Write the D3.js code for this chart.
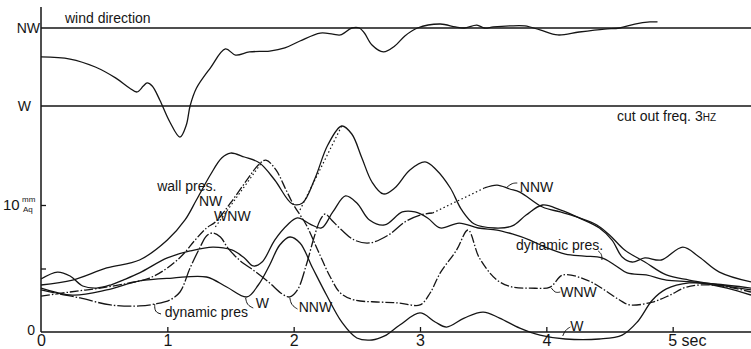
<!DOCTYPE html>
<html>
<head>
<meta charset="utf-8">
<script src="https://cdn.jsdelivr.net/npm/d3@7/dist/d3.min.js"></script>
<style>
  body { margin: 0; background: #fff; }
  svg { display: block; font-family: "Liberation Sans", Arial, sans-serif; }
</style>
</head>
<body>
<svg width="751" height="349"></svg>
<script>
// wind direction trace: [time s, direction deg]  (W = 270, NW = 315)
const windDir = [[0,298.3],[0.23,297.1],[0.43,292.5],[0.59,286.2],[0.70,280.4],[0.76,278.1],[0.81,281.5],[0.84,283.3],[0.88,281.5],[0.94,273.5],[1.02,260.8],[1.10,252.1],[1.15,259.0],[1.18,270],[1.23,280.2],[1.34,291.9],[1.46,302.9],[1.54,299.4],[1.65,301.2],[1.81,301.7],[1.93,303.5],[2.05,307.5],[2.21,312.1],[2.31,311.5],[2.37,311.0],[2.46,315],[2.52,315],[2.56,312.1],[2.62,305.2],[2.71,301.2],[2.80,304.6],[2.88,310.4],[2.98,315],[3.16,317.3],[3.28,315.6],[3.35,315],[3.45,316.7],[3.51,315],[3.58,315.6],[3.71,316.2],[3.83,316.2],[3.95,313.9],[4.09,311.0],[4.26,312.7],[4.46,314.4],[4.58,315],[4.70,317.3],[4.82,318.5],[4.88,318.5]];

// pressures: [time s, mm Aq]
const wallNW = [[0,3.70],[0.25,4.09],[0.52,5.04],[0.78,5.67],[1.00,7.24],[1.14,8.82],[1.23,10.39],[1.34,12.36],[1.43,13.70],[1.50,14.09],[1.61,13.78],[1.73,13.31],[1.85,11.97],[1.99,10.08],[2.07,10.16],[2.17,12.13],[2.27,14.72],[2.38,16.22],[2.46,15.59],[2.54,13.70],[2.62,11.81],[2.71,10.87],[2.80,11.34],[2.92,12.76],[3.04,13.39],[3.13,12.76],[3.24,11.34],[3.33,9.61],[3.43,8.50],[3.59,8.19],[3.73,8.35],[3.84,9.21],[3.97,10.0],[4.11,9.61],[4.26,8.98],[4.42,8.19],[4.52,7.24],[4.60,5.91],[4.68,5.51],[4.78,5.83],[4.91,5.67],[5.08,6.69],[5.21,5.91],[5.37,4.72],[5.62,3.94]];

const wallWNW = [[0,2.83],[0.23,3.15],[0.47,3.46],[0.70,3.86],[0.86,4.25],[1.00,5.04],[1.12,6.06],[1.22,7.24],[1.31,8.19],[1.38,8.66],[1.50,10.16],[1.63,11.97],[1.72,13.15],[1.78,13.54],[1.86,12.76],[1.94,11.18],[2.00,10.0],[2.10,8.43],[2.19,6.46],[2.29,4.33],[2.37,3.07],[2.48,2.52],[2.68,2.36],[2.84,2.28],[3.00,2.13],[3.08,3.07],[3.16,4.65],[3.29,6.46],[3.38,8.03],[3.47,5.83],[3.61,4.09],[3.73,3.54],[3.87,3.46],[4.03,3.54],[4.13,4.49],[4.32,4.09],[4.46,3.31],[4.58,2.52],[4.66,2.13],[4.84,2.36],[4.98,2.91],[5.11,3.54],[5.32,3.70],[5.62,3.15]];

const wallW = [[0,3.46],[0.25,2.91],[0.52,3.31],[0.78,4.02],[1.04,4.25],[1.31,4.33],[1.47,3.54],[1.63,2.76],[1.72,3.70],[1.81,5.28],[1.89,6.85],[1.97,7.48],[2.05,7.01],[2.15,5.04],[2.26,2.91],[2.38,0.79],[2.50,-0.47],[2.62,-0.63],[2.72,-0.31],[2.84,0.55],[3.00,1.50],[3.12,0.79],[3.21,0.39],[3.35,1.10],[3.50,1.57],[3.63,1.10],[3.79,0.31],[3.95,-0.24],[4.15,-0.55],[4.42,-0.55],[4.60,-0.24],[4.72,0.79],[4.84,2.52],[4.95,3.39],[5.13,3.86],[5.33,3.78],[5.62,3.46]];

const wallNNWa = [[0,3.31],[0.15,2.99],[0.31,2.68],[0.55,2.13],[0.78,2.05],[0.90,2.20],[1.02,2.52],[1.10,3.15],[1.18,5.04],[1.26,6.69],[1.31,7.56],[1.36,7.80],[1.42,7.48],[1.48,6.61],[1.57,5.67],[1.69,4.80],[1.81,3.86],[1.91,2.99],[1.97,2.76],[2.03,3.31],[2.10,5.28],[2.16,7.40],[2.21,8.82],[2.25,9.29],[2.30,8.82],[2.38,8.03],[2.48,7.24],[2.60,7.01],[2.75,7.64],[2.88,8.66],[3.00,9.21],[3.10,9.37]];
const wallNNWb = [[3.51,11.34],[3.61,11.57],[3.71,11.26],[3.79,11.02],[3.97,9.84],[4.11,9.45],[4.24,9.06],[4.40,8.43],[4.50,7.64],[4.62,6.46],[4.78,5.51],[4.95,4.49],[5.13,4.09],[5.37,3.70],[5.62,3.31]];

const dynPres = [[0,4.17],[0.13,4.72],[0.23,4.41],[0.33,3.62],[0.44,3.46],[0.55,3.70],[0.65,4.09],[0.78,4.65],[1.00,5.83],[1.18,6.38],[1.36,6.69],[1.51,6.46],[1.61,5.83],[1.68,5.20],[1.75,5.51],[1.85,7.24],[1.95,8.43],[2.03,8.98],[2.13,8.50],[2.22,8.19],[2.31,9.45],[2.41,10.71],[2.50,10.16],[2.60,8.82],[2.72,8.43],[2.86,9.45],[2.96,9.45],[3.06,8.98],[3.16,8.19],[3.31,8.58],[3.46,8.19],[3.61,8.03],[3.73,7.72],[3.87,7.24],[3.99,6.69],[4.15,6.14],[4.30,5.98],[4.44,5.83],[4.54,5.28],[4.64,4.65],[4.79,4.49],[4.95,4.09],[5.16,3.94],[5.43,3.46],[5.62,2.91]];

// dotted peak-to-peak guides
const lagLines = [
  [[1.38,8.27],[1.75,13.39]],
  [[2.05,9.61],[2.38,16.22]],
  [[3.10,9.37],[3.51,11.34]]
];

const xTicks = [0, 1, 2, 3, 4, 5];

const notes = [
  { text: 'wall pres.', t: 0.92, v: 11.10 },
  { text: 'NW', t: 1.25, v: 9.92 },
  { text: 'WNW', t: 1.37, v: 8.74 },
  { text: 'dynamic pres', t: 0.98, v: 1.18 },
  { text: 'W', t: 1.70, v: 1.89 },
  { text: 'NNW', t: 2.04, v: 1.57 },
  { text: 'NNW', t: 3.79, v: 11.02 },
  { text: 'dynamic pres.', t: 3.76, v: 6.46 },
  { text: 'WNW', t: 4.11, v: 2.76 },
  { text: 'W', t: 4.19, v: 0.08 }
];
const leaders = [
  [[0.90,2.20],[0.90,1.57],[0.95,1.42]],
  [[1.62,2.68],[1.63,2.13],[1.68,1.89]],
  [[1.97,2.68],[1.98,2.13],[2.03,1.81]],
  [[3.69,11.42],[3.73,11.73],[3.77,11.73]],
  [[4.41,6.38],[4.44,6.14],[4.44,5.67]],
  [[4.04,3.46],[4.07,3.07],[4.11,3.15]],
  [[4.13,-0.31],[4.15,0.16],[4.19,0.39]]
];

const margin = { top: 7, right: 0, bottom: 17, left: 41 };
const W = 751, H = 349;
const ink = '#151515';

const svg = d3.select('svg');

const x = d3.scaleLinear().domain([0, 5.62]).range([margin.left, W - margin.right]);
const y = d3.scaleLinear().domain([0, 10]).range([H - margin.bottom, 205]);
const yDir = d3.scaleLinear().domain([270, 315]).range([106, 28]);

const line = d3.line()
  .x(d => x(d[0]))
  .y(d => y(d[1]))
  .curve(d3.curveCatmullRom.alpha(0.5));

// direction reference lines
svg.append('g')
  .selectAll('line')
  .data([270, 315])
  .join('line')
  .attr('x1', x(0)).attr('x2', W)
  .attr('y1', d => yDir(d)).attr('y2', d => yDir(d))
  .attr('stroke', ink).attr('stroke-width', 1.5);

svg.append('path')
  .datum(windDir)
  .attr('fill', 'none')
  .attr('stroke', ink)
  .attr('stroke-width', 1.3)
  .attr('d', d3.line().x(d => x(d[0])).y(d => yDir(d[1])).curve(d3.curveCatmullRom.alpha(0.5)));

// y axis (full height)
svg.append('line')
  .attr('x1', x(0)).attr('x2', x(0))
  .attr('y1', margin.top).attr('y2', y(0))
  .attr('stroke', ink).attr('stroke-width', 1.5);

svg.append('g')
  .attr('transform', `translate(${x(0)},0)`)
  .call(d3.axisLeft(y).tickValues([5, 10]).tickSize(-5).tickFormat(''))
  .call(g => g.select('.domain').remove())
  .call(g => g.selectAll('line').attr('stroke', ink).attr('stroke-width', 1.3));

// x axis
const xAxis = svg.append('g')
  .attr('transform', `translate(0,${y(0)})`)
  .call(d3.axisBottom(x).tickValues(xTicks).tickFormat(d3.format('d'))
    .tickSize(-5).tickPadding(2).tickSizeOuter(0));
xAxis.select('.domain').attr('stroke', ink).attr('stroke-width', 1.5).attr('d', `M${x(0)},0H${W}`);
xAxis.selectAll('line').attr('stroke', ink).attr('stroke-width', 1.3);
xAxis.selectAll('text')
  .attr('fill', ink)
  .attr('font-size', 16)
  .attr('font-family', '"Liberation Sans", Arial, sans-serif')
  .attr('dy', '0.72em');
xAxis.selectAll('.tick').filter(d => d === 0).select('line').remove();
xAxis.selectAll('.tick').filter(d => d === 5).select('text')
  .attr('text-anchor', 'start').attr('dx', -5)
  .text('5 sec');

// axis labels
const lab = svg.append('g').attr('fill', ink).attr('font-size', 14);
lab.append('text').attr('x', x(0) - 1).attr('y', yDir(315)).attr('dy', '0.36em')
  .attr('text-anchor', 'end').text('NW');
lab.append('text').attr('x', x(0) - 10).attr('y', yDir(270)).attr('dy', '0.36em')
  .attr('text-anchor', 'end').text('W');
lab.append('text').attr('x', x(0) - 6).attr('y', y(0) - 2).attr('dy', '0.36em')
  .attr('text-anchor', 'end').text('0');
lab.append('text').attr('x', 3).attr('y', y(10)).attr('dy', '0.36em')
  .attr('font-size', 15).text('10');
lab.append('text').attr('x', 22).attr('y', y(10) - 3).attr('font-size', 8).text('mm');
lab.append('text').attr('x', 23).attr('y', y(10) + 7).attr('font-size', 8).text('Aq');

lab.append('text').attr('x', x(0.19)).attr('y', yDir(317.9)).text('wind direction');
const cut = lab.append('text').attr('x', x(4.56)).attr('y', yDir(261.3)).text('cut out freq. 3');
cut.append('tspan').attr('font-size', 10).text('HZ');

// pressure traces
const traces = [
  { data: wallNW, dash: null },
  { data: wallW, dash: null },
  { data: dynPres, dash: null },
  { data: wallWNW, dash: '9,2,1.5,2' },
  { data: wallNNWa, dash: '14,2,1.5,2' },
  { data: wallNNWb, dash: null }
];
svg.append('g')
  .selectAll('path')
  .data(traces)
  .join('path')
  .attr('fill', 'none')
  .attr('stroke', ink)
  .attr('stroke-width', 1.3)
  .attr('stroke-dasharray', d => d.dash)
  .attr('d', d => line(d.data));

svg.append('g')
  .selectAll('path')
  .data(lagLines)
  .join('path')
  .attr('fill', 'none')
  .attr('stroke', ink)
  .attr('stroke-width', 1.2)
  .attr('stroke-dasharray', '1.5,2.5')
  .attr('d', d3.line().x(d => x(d[0])).y(d => y(d[1])));

// labels
svg.append('g')
  .selectAll('path')
  .data(leaders)
  .join('path')
  .attr('fill', 'none')
  .attr('stroke', ink)
  .attr('stroke-width', 1)
  .attr('d', d3.line().x(d => x(d[0])).y(d => y(d[1])).curve(d3.curveBasis));

svg.append('g')
  .attr('fill', ink)
  .attr('font-size', 14)
  .selectAll('text')
  .data(notes)
  .join('text')
  .attr('x', d => x(d.t))
  .attr('y', d => y(d.v))
  .text(d => d.text);
</script>
</body>
</html>
